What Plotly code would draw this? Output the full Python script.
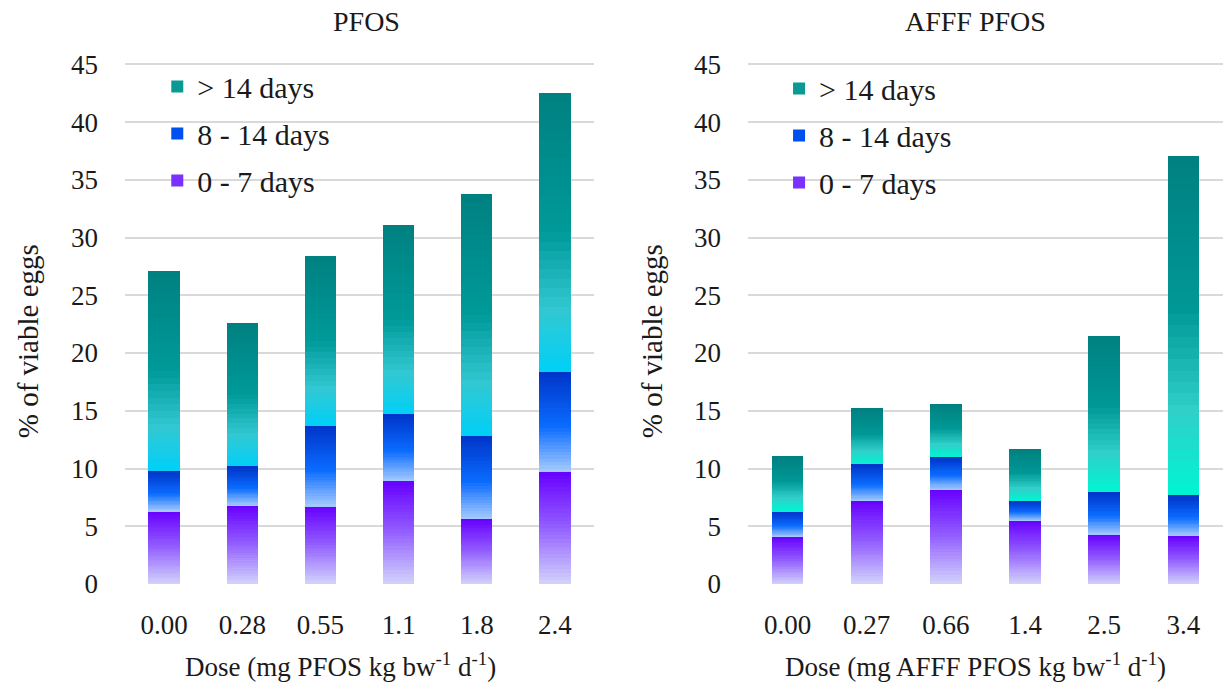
import plotly.graph_objects as go
from plotly.subplots import make_subplots

# ---------------- data ----------------
doses_pfos = ["0.00", "0.28", "0.55", "1.1", "1.8", "2.4"]
doses_afff = ["0.00", "0.27", "0.66", "1.4", "2.5", "3.4"]

pfos_0_7 = [6.3, 6.8, 6.7, 8.9, 5.6, 9.7]
pfos_8_14 = [3.5, 3.4, 7.0, 5.8, 7.2, 8.7]
pfos_gt14 = [17.3, 12.4, 14.7, 16.4, 21.0, 24.1]

afff_0_7 = [4.1, 7.2, 8.2, 5.5, 4.3, 4.2]
afff_8_14 = [2.2, 3.2, 2.8, 1.7, 3.7, 3.5]
afff_gt14 = [4.8, 4.8, 4.6, 4.5, 13.5, 29.4]

y_ticks = [0, 5, 10, 15, 20, 25, 30, 35, 40, 45]

# ---------------- style ----------------
FONT = "Liberation Serif, Times New Roman, serif"
TXT = "#1a1a1a"
GRID = "#d9d9d9"
N_BANDS = 30  # bands used to imitate the vertical gradient fill

# colour stops: (position from bottom of segment, hex)
grad_0_7 = [(0.0, "#d2d4fb"), (0.5, "#9460ff"), (1.0, "#6600ff")]
grad_8_14 = [(0.0, "#a8ccff"), (0.45, "#0a6cff"), (1.0, "#0033c8")]
grad_gt14_left = [(0.0, "#00d0f8"), (0.22, "#32c8d2"), (0.5, "#009a9a"), (1.0, "#008080")]
grad_gt14_right = [(0.0, "#00f5d2"), (0.25, "#30cfc8"), (0.55, "#009896"), (1.0, "#008080")]


def hex2rgb(h):
    h = h.lstrip("#")
    return tuple(int(h[i:i + 2], 16) for i in (0, 2, 4))


def grad_color(stops, t):
    for (p0, c0), (p1, c1) in zip(stops[:-1], stops[1:]):
        if p0 <= t <= p1:
            f = (t - p0) / (p1 - p0) if p1 > p0 else 0
            a, b = hex2rgb(c0), hex2rgb(c1)
            r = [round(a[i] + (b[i] - a[i]) * f) for i in range(3)]
            return "rgb(%d,%d,%d)" % tuple(r)
    return stops[-1][1]


fig = make_subplots(rows=1, cols=2, horizontal_spacing=0.1)

series_defs = [
    # (name, legend colour, rank)
    ("0 - 7 days", "#7a30ff", 3),
    ("8 - 14 days", "#0050f0", 2),
    ("> 14 days", "#0a9a94", 1),
]

panels = [
    (1, doses_pfos, [pfos_0_7, pfos_8_14, pfos_gt14],
     [grad_0_7, grad_8_14, grad_gt14_left], "legend"),
    (2, doses_afff, [afff_0_7, afff_8_14, afff_gt14],
     [grad_0_7, grad_8_14, grad_gt14_right], "legend2"),
]

for col, cats, vals, grads, leg in panels:
    for (name, lcol, rank), v, g in zip(series_defs, vals, grads):
        for k in range(N_BANDS):
            t = (k + 0.5) / N_BANDS
            fig.add_trace(
                go.Bar(
                    x=cats,
                    y=[val / N_BANDS for val in v],
                    name=name,
                    legendgroup=name,
                    showlegend=False,
                    marker=dict(color=grad_color(g, t), line=dict(width=0)),
                    width=0.4,
                    hoverinfo="skip",
                ),
                row=1, col=col,
            )
        # legend entry (zero-height, same category positions)
        fig.add_trace(
            go.Bar(
                x=cats,
                y=[0] * len(cats),
                name=name,
                legendgroup=name,
                legendrank=rank,
                showlegend=True,
                legend=leg,
                marker=dict(color=lcol, line=dict(width=0)),
                width=0.4,
                hoverinfo="skip",
            ),
            row=1, col=col,
        )

axis_common = dict(showline=False, zeroline=False, ticks="",
                   tickfont=dict(family=FONT, size=27, color=TXT))

fig.update_xaxes(**axis_common, showgrid=False, ticklabelstandoff=22)
fig.update_yaxes(**axis_common, showgrid=True, gridcolor=GRID, gridwidth=2,
                 range=[0, 45.2], tickvals=y_ticks, ticklabelstandoff=26)

legend_common = dict(xanchor="left", yanchor="top",
                     font=dict(family=FONT, size=30, color=TXT),
                     traceorder="grouped", tracegroupgap=5,
                     bgcolor="rgba(0,0,0,0)")

ann_font = dict(family=FONT, size=28, color=TXT)

fig.update_layout(
    xaxis=dict(domain=[0.1022, 0.4857]),
    xaxis2=dict(domain=[0.6116, 1.0]),
    barmode="stack",
    bargap=0.6,
    width=1223, height=688,
    margin=dict(l=0, r=0, t=62, b=104),
    plot_bgcolor="white", paper_bgcolor="white",
    font=dict(family=FONT, color=TXT),
    legend=dict(x=0.1286, y=1.003, **legend_common),
    legend2=dict(x=0.637, y=0.999, **legend_common),
    annotations=[
        dict(text="PFOS", x=366 / 1223, y=1.077, xref="paper", yref="paper",
             xanchor="center", yanchor="middle", showarrow=False, font=ann_font),
        dict(text="AFFF PFOS", x=975 / 1223, y=1.077, xref="paper", yref="paper",
             xanchor="center", yanchor="middle", showarrow=False, font=ann_font),
        dict(text="Dose (mg PFOS kg bw<sup>-1</sup> d<sup>-1</sup>)", x=340 / 1223, y=-0.155,
             xref="paper", yref="paper", showarrow=False, xanchor="center", yanchor="middle",
             font=dict(family=FONT, size=27, color=TXT)),
        dict(text="Dose (mg AFFF PFOS kg bw<sup>-1</sup> d<sup>-1</sup>)", x=975 / 1223, y=-0.155,
             xref="paper", yref="paper", showarrow=False, xanchor="center", yanchor="middle",
             font=dict(family=FONT, size=27, color=TXT)),
        dict(text="% of viable eggs", x=28 / 1223, y=0.465, xref="paper", yref="paper",
             showarrow=False, textangle=-90, xanchor="center", yanchor="middle",
             font=dict(family=FONT, size=29, color=TXT)),
        dict(text="% of viable eggs", x=652 / 1223, y=0.465, xref="paper", yref="paper",
             showarrow=False, textangle=-90, xanchor="center", yanchor="middle",
             font=dict(family=FONT, size=29, color=TXT)),
    ],
)

fig.write_html("out.html")
